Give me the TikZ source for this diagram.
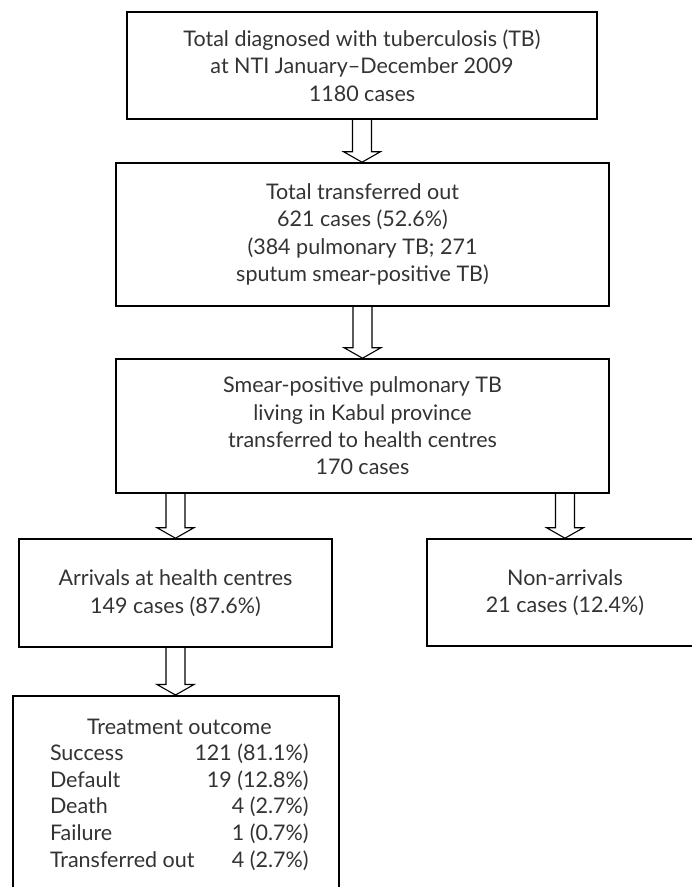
\documentclass[tikz,border=0pt]{standalone}
\usepackage{fontspec}
\setmainfont{Lato}
\usetikzlibrary{calc}
\definecolor{txt}{HTML}{333333}
\tikzset{
  box/.style={draw=black, line width=1.6pt, rectangle, align=center, inner sep=0pt,
    text=txt, font=\fontsize{21.5}{27.3}\selectfont},
  blk/.style={draw=black, line width=1.1pt, line join=miter},
}
\newcommand\blockarrow[2]{%
  \draw[blk] let \p1=(#1), \p2=(#2) in
    (\x1-9.5pt,\y1) -- (\x1-9.5pt,\y2+10.5pt) -- (\x1-18.5pt,\y2+10.5pt) -- (\x1,\y2)
    -- (\x1+18.5pt,\y2+10.5pt) -- (\x1+9.5pt,\y2+10.5pt) -- (\x1+9.5pt,\y1);}
\begin{document}
\begin{tikzpicture}[x=1pt,y=-1pt]
\useasboundingbox (0,0) rectangle (692,887);
\clip (0,0) rectangle (692,887);
\node[box, minimum width=470pt, minimum height=107pt] (b1) at (362,65.5)
  {Total diagnosed with tuberculosis (TB)\\at NTI January–December 2009\\1180 cases};
\node[box, minimum width=493pt, minimum height=143pt] (b2) at (362.5,234.5)
  {Total transferred out\\621 cases (52.6\%)\\(384 pulmonary TB; 271\\sputum smear-positive TB)};
\node[box, minimum width=493pt, minimum height=134pt] (b3) at (362.5,426)
  {Smear-positive pulmonary TB\\living in Kabul province\\transferred to health centres\\170 cases};
\node[box, minimum width=313pt, minimum height=108pt] (b4) at (175.5,593)
  {Arrivals at health centres\\149 cases (87.6\%)};
\node[box, minimum width=276pt, minimum height=107pt] (b5) at (565,592.5)
  {Non-arrivals\\21 cases (12.4\%)};
\node[box, minimum width=326pt, minimum height=240pt, anchor=north] (b6) at (176,695) {};
\node[anchor=base, inner sep=0pt, text=txt, font=\fontsize{21.5}{26.6}\selectfont] (b6t)
  at ($(b6.north)+(-2.5,39)$)
  {\renewcommand\arraystretch{1}\begin{tabular*}{247pt}[t]{@{}l@{\extracolsep{\fill}}r@{}}
   \multicolumn{2}{c}{Treatment outcome}\\
   Success & 121 (81.1\%)\\
   Default & 19 (12.8\%)\\
   Death & 4 (2.7\%)\\
   Failure & 1 (0.7\%)\\
   Transferred out & 4 (2.7\%)
   \end{tabular*}};
\blockarrow{b1.south}{b2.north}
\blockarrow{b2.south}{b3.north}
\blockarrow{b4.north |- b3.south}{b4.north}
\blockarrow{b5.north |- b3.south}{b5.north}
\blockarrow{b4.south}{b4.south |- b6.north}
\end{tikzpicture}
\end{document}
